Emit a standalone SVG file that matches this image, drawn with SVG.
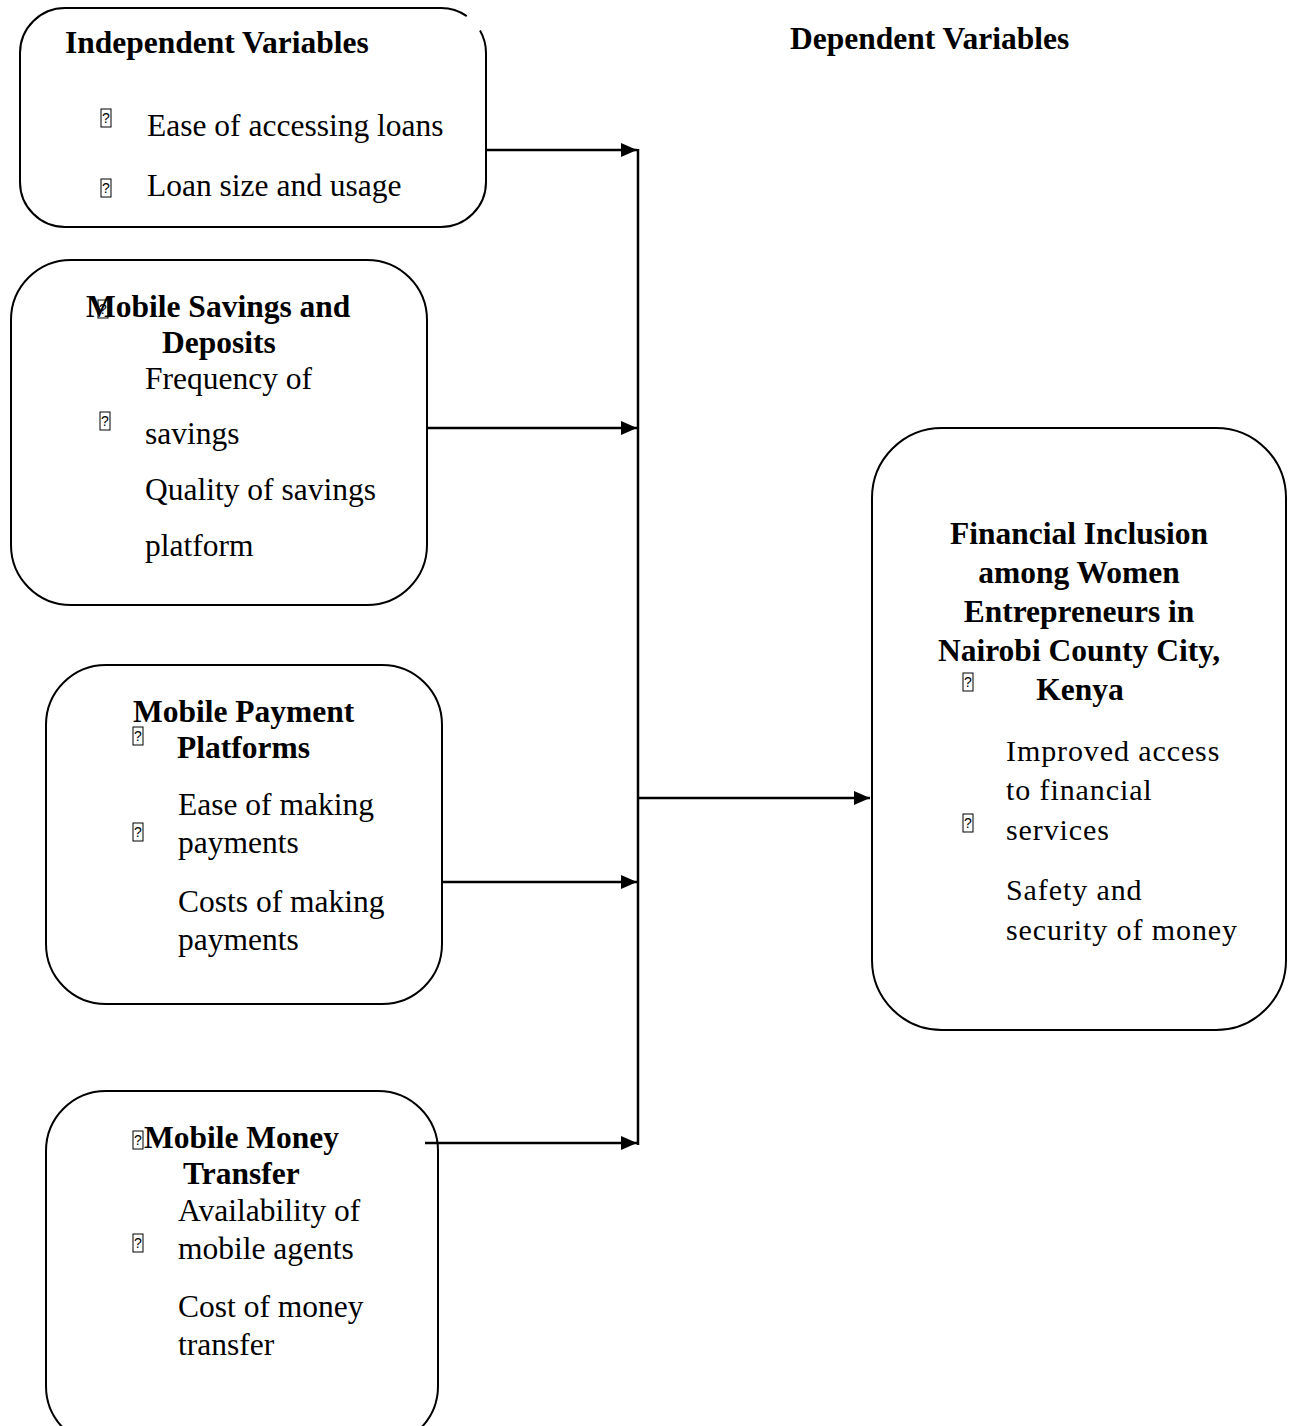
<svg xmlns="http://www.w3.org/2000/svg" width="1292" height="1426" viewBox="0 0 1292 1426">
<style>
.box{fill:#fff;stroke:#000;stroke-width:2}
.t{font-family:"Liberation Serif","Times New Roman",serif;font-size:31.5px;fill:#000}
.b{font-family:"Liberation Serif","Times New Roman",serif;font-size:31.5px;font-weight:bold;fill:#000}
.r{font-size:30px;letter-spacing:0.9px}
.c{text-anchor:middle}
.tofu rect{fill:none;stroke:#000;stroke-width:1}
.tofu text{font-family:"Liberation Sans",Arial,sans-serif;font-size:14px;text-anchor:middle;fill:#000}
.con{stroke:#000;stroke-width:2.5;fill:none}
</style>
<defs>
<marker id="ah" markerUnits="userSpaceOnUse" markerWidth="18" markerHeight="16" refX="16" refY="7" orient="auto">
<path d="M0,0 L16,7 L0,14 z" fill="#000"/>
</marker>
<g id="tf" class="tofu"><rect x="0" y="0" width="10" height="18"/><text x="5" y="14">?</text></g>
</defs>
<rect width="1292" height="1426" fill="#fff"/>

<g id="independent">
<path d="M466.8,16.1 A45,45 0 0 0 441,8 L65,8 A45,45 0 0 0 20,53 L20,182 A45,45 0 0 0 65,227 L441,227 A45,45 0 0 0 486,182 L486,53 A45,45 0 0 0 480,30.5" fill="#fff" stroke="#000" stroke-width="2"/>
<text class="b" x="65" y="53">Independent Variables</text>
<use href="#tf" x="101" y="109"/>
<text class="t" x="147" y="136">Ease of accessing loans</text>
<use href="#tf" x="101" y="179"/>
<text class="t" x="147" y="196">Loan size and usage</text>
</g>

<g id="dependent-title">
<text class="b" x="790" y="49">Dependent Variables</text>
</g>

<g id="savings">
<rect class="box" x="11" y="260" width="416" height="345" rx="60" ry="60"/>
<text class="b" x="86" y="317">Mobile Savings and</text>
<use href="#tf" x="98" y="300"/>
<text class="b" x="162" y="353">Deposits</text>
<text class="t" x="145" y="389">Frequency of</text>
<use href="#tf" x="100" y="412"/>
<text class="t" x="145" y="444">savings</text>
<text class="t" x="145" y="500">Quality of savings</text>
<text class="t" x="145" y="556">platform</text>
</g>

<g id="payment">
<rect class="box" x="46" y="665" width="396" height="339" rx="60" ry="60"/>
<text class="b" x="133" y="722">Mobile Payment</text>
<use href="#tf" x="133" y="727"/>
<text class="b" x="177" y="758">Platforms</text>
<text class="t" x="178" y="815">Ease of making</text>
<use href="#tf" x="133" y="823"/>
<text class="t" x="178" y="853">payments</text>
<text class="t" x="178" y="912">Costs of making</text>
<text class="t" x="178" y="950">payments</text>
</g>

<g id="transfer">
<rect class="box" x="46" y="1091" width="392" height="355" rx="60" ry="60"/>
<use href="#tf" x="133" y="1131"/>
<text class="b" x="144" y="1148">Mobile Money</text>
<text class="b" x="183" y="1184">Transfer</text>
<text class="t" x="178" y="1221">Availability of</text>
<use href="#tf" x="133" y="1234"/>
<text class="t" x="178" y="1259">mobile agents</text>
<text class="t" x="178" y="1317">Cost of money</text>
<text class="t" x="178" y="1355">transfer</text>
</g>

<g id="inclusion">
<rect class="box" x="872" y="428" width="414" height="602" rx="70" ry="70"/>
<text class="b c" x="1079" y="544">Financial Inclusion</text>
<text class="b c" x="1079" y="583">among Women</text>
<text class="b c" x="1079" y="622">Entrepreneurs in</text>
<text class="b c" x="1079" y="661">Nairobi County City,</text>
<text class="b c" x="1080" y="700">Kenya</text>
<use href="#tf" x="963" y="673"/>
<text class="t r" x="1006" y="761">Improved access</text>
<text class="t r" x="1006" y="800">to financial</text>
<use href="#tf" x="963" y="814"/>
<text class="t r" x="1006" y="840">services</text>
<text class="t r" x="1006" y="900">Safety and</text>
<text class="t r" x="1006" y="940">security of money</text>
</g>

<g id="connectors">
<line class="con" x1="486" y1="150" x2="637" y2="150" marker-end="url(#ah)"/>
<line class="con" x1="427" y1="428" x2="637" y2="428" marker-end="url(#ah)"/>
<line class="con" x1="442" y1="882" x2="637" y2="882" marker-end="url(#ah)"/>
<line class="con" x1="425" y1="1143" x2="637" y2="1143" marker-end="url(#ah)"/>
<line class="con" x1="638" y1="149" x2="638" y2="1145"/>
<line class="con" x1="638" y1="798" x2="870" y2="798" marker-end="url(#ah)"/>
</g>
</svg>
